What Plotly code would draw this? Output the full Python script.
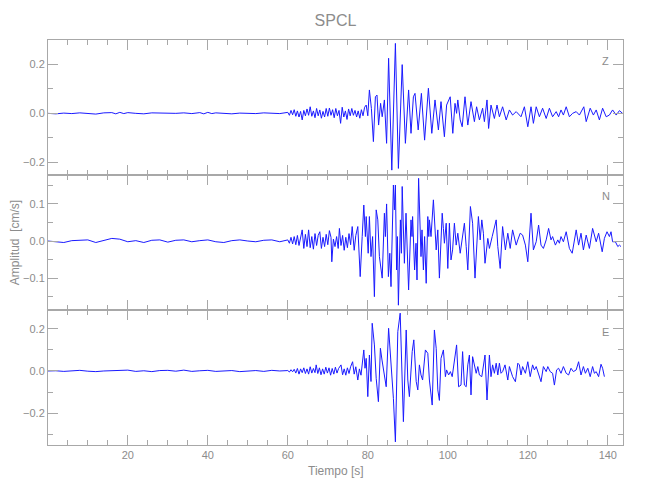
import plotly.graph_objects as go
from plotly.subplots import make_subplots

# ---------------- data ----------------
t_z = [0,2,4,6,8,10,12,14,16,17,18,19,20,22,24,26,28,30,32,34,36,38,39,40,41,42,44,46,48,50,52,54,56,58,
       60.0,60.4,60.8,61.2,61.6,62.0,62.4,62.8,63.2,63.6,64.0,64.4,64.8,65.2,65.6,66.0,66.4,66.8,67.2,67.6,
       68.0,68.4,68.8,69.2,69.6,70.0,70.4,70.8,71.2,71.6,72.0,72.4,72.8,73.2,73.6,74.0,74.4,74.8,75.2,75.6,
       76.0,76.4,76.8,77.2,77.6,78.0,78.4,78.8,79.2,79.6,
       80.0,80.4,80.9,81.4,81.9,82.3,82.7,83.2,83.6,84.15,84.7,85.2,86.0,86.9,87.65,88.6,89.4,90.2,90.8,91.4,
       91.8,92.6,93.4,94.2,95.15,96.0,96.8,97.65,
       98.3,99.15,99.7,100.6,101.25,101.8,102.2,102.5,103.1,103.6,104.3,105.0,105.8,106.65,107.2,107.9,108.7,
       109.15,109.8,110.2,110.8,111.65,112.3,112.9,113.7,114.6,115.4,116.2,117.1,118.3,119.15,120.0,120.8,
       121.4,122.1,122.9,123.7,124.6,125.4,126.2,127.1,127.7,128.3,128.9,129.6,130.4,131.2,132.1,132.9,134.0,
       134.6,135.6,136.4,137.1,137.9,138.7,139.6,140.4,141.2,142.1,142.9,143.7]
v_z = [0,-0.002,0.001,-0.001,0.002,0,-0.003,0.002,0.003,-0.002,0.004,-0.001,0.003,0,-0.002,0.002,0.001,-0.002,0,0.002,
       -0.001,0.003,-0.002,0.004,-0.001,0.002,0,-0.002,0.001,0,-0.001,0.002,0,-0.001,
       0.004,-0.008,0.012,-0.006,0.015,-0.012,0.010,-0.015,0.008,-0.027,0.012,-0.010,0.018,-0.008,0.027,-0.012,
       0.010,-0.018,0.020,-0.010,0.014,-0.020,0.008,-0.015,0.020,-0.012,0.022,-0.008,0.015,-0.018,0.020,-0.010,
       0.012,-0.041,0.025,-0.015,0.010,-0.025,0.018,-0.010,0.020,-0.008,0.012,-0.015,0.010,-0.020,0.015,-0.010,
       0.025,0.034,
       -0.010,0.096,0.020,-0.116,0.068,0.075,-0.048,0.041,-0.014,0.055,-0.123,0.226,-0.233,0.287,-0.226,0.200,
       -0.123,0.096,-0.082,0.068,0.082,-0.068,0.082,-0.110,0.103,-0.082,0.055,-0.068,
       0.048,-0.096,0.034,0.068,-0.082,0.041,0.0,0.055,-0.027,-0.055,0.068,-0.048,0.048,-0.034,0.027,-0.027,
       0.021,-0.034,0.055,-0.062,0.034,-0.021,0.034,-0.014,0.027,-0.027,0.014,-0.007,0.007,-0.014,0.027,-0.055,
       0.027,-0.041,0.027,-0.014,0.021,-0.021,0.021,-0.014,0.007,-0.014,0.014,-0.007,0.027,-0.014,0.0,0.007,
       -0.007,0.027,-0.034,0.021,-0.007,0.014,-0.027,0.021,-0.014,-0.007,0.014,-0.007,0.011,0.0]

t_n = [0,2,4,6,8,10,12,14,16,18,20,22,24,26,28,30,32,34,36,38,40,42,44,46,48,50,52,54,56,58,
       60.0,60.4,60.8,61.2,61.6,62.0,62.4,62.8,63.2,63.6,64.0,64.4,64.8,65.2,65.6,66.0,66.4,66.8,67.2,67.6,
       68.0,68.4,68.8,69.2,69.6,70.0,70.4,70.8,71.0,71.4,71.8,72.2,72.6,72.9,73.3,73.7,74.1,74.5,74.9,75.3,
       75.7,76.1,76.6,77.0,77.5,
       78.1,78.6,79.0,79.4,79.6,80.1,80.4,80.8,81.2,81.65,82.1,82.5,82.9,83.6,84.15,84.4,84.7,85.15,85.5,85.8,
       86.4,86.65,86.9,87.2,87.4,87.65,88.15,88.4,88.6,89.15,89.55,90.2,90.8,91.05,91.2,91.7,92.05,92.3,92.7,
       93.3,93.55,93.9,94.2,94.6,95.0,95.25,95.4,95.8,96.4,97.1,97.5,97.9,
       98.6,98.9,99.15,99.6,100.0,100.4,100.8,101.2,101.65,102.1,102.5,103.1,103.7,104.15,104.6,105.0,105.65,
       106.2,106.8,107.2,107.65,108.1,108.5,108.9,109.3,110.0,110.4,111.1,111.65,112.1,112.5,113.1,113.7,114.4,
       115.0,115.6,116.2,117.1,117.5,118.1,118.7,119.4,120.0,120.8,121.4,122.1,122.7,123.3,123.9,124.6,125.2,
       125.8,126.2,126.9,127.5,127.9,128.3,128.9,129.6,130.4,131.1,132.1,132.7,133.3,133.9,134.6,135.4,136.2,
       137.1,137.7,138.6,139.15,139.8,140.4,140.8,141.2,141.9,142.5,142.9,143.3]
v_n = [0,-0.001,-0.004,0.001,0.003,0.003,-0.004,0.002,0.007,0.005,-0.002,0.001,-0.004,0.002,0.003,-0.003,0.002,
       0.003,-0.002,0.001,0.003,-0.002,-0.004,0.001,0.003,0,-0.002,0.002,0.003,-0.002,
       0.003,-0.006,0.010,-0.008,0.012,-0.010,0.015,-0.012,0.008,0.030,-0.020,0.018,-0.015,0.030,-0.018,0.012,
       -0.022,0.020,-0.012,0.015,0.025,-0.020,0.010,-0.015,0.018,-0.010,0.028,0.010,-0.056,0.005,-0.015,0.012,
       -0.020,0.034,-0.012,0.015,-0.025,0.010,-0.018,0.020,-0.010,0.039,-0.025,0.015,0.039,
       -0.096,0.012,0.097,0.012,0.066,-0.033,0.066,-0.042,0.012,-0.150,0.084,0.057,-0.042,-0.100,0.075,0.012,
       0.100,-0.096,-0.033,-0.123,0.151,0.084,0.151,-0.078,0.012,-0.173,0.057,-0.033,0.147,-0.060,0.075,-0.132,
       0.057,0.012,0.066,-0.078,-0.006,-0.105,0.169,-0.042,0.030,-0.078,0.012,-0.114,0.066,0.012,0.057,0.012,
       0.111,-0.024,0.030,-0.100,
       0.075,0.034,-0.006,0.048,-0.074,0.048,-0.051,-0.024,0.048,-0.011,0.021,-0.033,0.016,0.048,-0.015,-0.078,
       0.093,0.048,-0.100,-0.024,0.066,0.003,0.057,0.021,-0.060,0.007,-0.020,0.012,0.034,0.057,-0.015,-0.074,
       0.039,-0.024,0.021,-0.020,0.030,-0.011,0.003,0.021,0.016,-0.011,-0.056,0.075,-0.024,-0.002,0.043,-0.011,
       -0.020,0.003,0.034,0.003,0.012,-0.011,0.003,-0.006,0.012,-0.002,0.025,-0.020,-0.033,0.030,-0.011,0.021,
       -0.024,0.016,-0.020,0.034,-0.002,0.021,-0.029,0.007,0.025,0.012,0.025,-0.002,-0.002,-0.015,-0.011,-0.015]

t_e = [0,2,4,6,8,10,12,14,16,18,20,22,24,26,28,30,32,34,36,38,40,42,44,46,48,50,52,54,56,58,
       60.0,60.4,60.8,61.2,61.6,62.0,62.4,62.8,63.2,63.6,64.0,64.4,64.8,65.2,65.6,66.0,66.4,66.8,67.1,67.5,
       67.9,68.3,68.7,69.1,69.5,69.9,70.3,70.7,71.1,71.5,71.9,72.3,72.7,73.3,73.7,74.1,74.5,74.9,75.3,75.7,
       76.2,76.6,77.0,77.5,77.9,78.3,78.6,
       79.0,79.3,79.6,80.0,80.4,80.8,81.1,81.65,82.1,82.65,83.15,83.55,84.15,84.6,85.2,85.8,86.4,86.9,87.5,88.1,
       88.6,88.9,89.6,90.0,90.4,91.1,91.5,92.1,92.5,92.9,93.3,93.7,94.4,95.0,95.4,96.1,96.65,97.1,97.5,97.9,
       98.3,98.9,99.4,99.7,100.2,100.65,101.1,101.65,102.2,102.7,103.3,103.7,104.15,104.6,105.0,105.4,105.8,
       106.2,106.65,107.1,107.5,107.9,108.5,108.9,109.3,109.8,110.4,110.8,111.2,111.65,112.1,112.5,112.9,113.3,
       113.7,114.3,115.0,115.4,115.8,116.2,116.9,117.5,117.9,118.3,118.7,119.4,120.0,120.6,121.2,121.65,122.1,
       122.65,123.3,123.9,124.6,125.0,125.6,126.2,126.65,127.2,127.7,128.3,128.9,129.6,130.2,130.8,131.4,132.1,
       132.7,133.3,133.9,134.4,135.0,135.6,136.2,136.65,137.1,137.7,138.3,138.7,139.15]
v_e = [0,0.001,-0.002,0.002,0.003,-0.001,-0.003,0,0.002,0.001,0.004,-0.002,0.001,-0.003,0.002,0.003,-0.001,
       0.004,-0.002,0.001,0.003,-0.002,0,0.002,-0.003,0.001,0.002,-0.002,0.003,0,
       0.002,-0.005,0.006,-0.004,0.008,-0.010,0.012,-0.015,0.010,-0.008,0.015,-0.012,0.010,-0.015,0.020,-0.010,
       0.012,-0.008,0.029,-0.012,0.015,-0.018,0.010,-0.015,0.018,-0.010,0.015,-0.020,0.012,-0.015,0.018,-0.010,
       0.012,0.029,-0.018,0.010,-0.020,0.015,-0.012,0.020,0.044,-0.015,0.020,-0.043,0.010,-0.020,0.030,
       0.100,0.013,0.060,-0.122,0.076,-0.050,0.227,0.124,-0.035,-0.146,0.108,0.052,-0.027,-0.075,0.203,0.029,
       -0.130,-0.337,0.187,0.275,-0.098,-0.241,0.195,-0.043,-0.122,0.092,0.148,-0.050,-0.090,0.029,-0.019,-0.043,
       0.100,0.084,-0.043,-0.162,0.195,0.108,-0.090,-0.140,
       0.060,0.100,-0.027,0.005,-0.019,-0.003,-0.027,0.044,0.124,-0.075,-0.067,0.092,-0.067,-0.075,0.029,0.076,
       -0.114,0.068,0.029,-0.011,0.021,-0.019,-0.027,0.029,0.076,-0.138,0.076,-0.027,0.029,-0.011,0.037,-0.019,
       0.037,-0.011,-0.003,0.029,-0.043,0.021,-0.003,-0.027,-0.051,0.037,0.029,-0.019,0.021,-0.011,0.044,-0.027,
       0.029,0.005,0.021,-0.011,-0.051,0.021,-0.003,0.021,-0.003,-0.011,-0.067,0.005,0.013,-0.011,0.021,-0.011,
       -0.019,0.013,-0.003,0.005,0.044,-0.019,0.021,-0.011,0.013,-0.027,0.021,-0.011,-0.003,-0.027,0.032,0.013,
       -0.027]

components = ["Z", "N", "E"]
title_text = "SPCL"
x_title = "Tiempo [s]"
y_title = "Amplitud  [cm/s]"

# ---------------- figure ----------------
GRAY = "#8c8c8c"
AX = "#a8a8a8"
FONT = "Liberation Sans, Arial, sans-serif"

fig = make_subplots(rows=3, cols=1, shared_xaxes=True, vertical_spacing=0)
series = [(t_z, v_z), (t_n, v_n), (t_e, v_e)]
for i, (t, v) in enumerate(series, start=1):
    fig.add_trace(go.Scatter(x=t, y=v, mode="lines",
                             line=dict(color="#1a1aff", width=1),
                             showlegend=False, hoverinfo="skip"), row=i, col=1)

yranges = [[-0.253, 0.301], [-0.186, 0.178], [-0.352, 0.290]]
ydticks = [0.2, 0.1, 0.2]
for i in range(1, 4):
    fig.update_xaxes(range=[0.05, 143.8], tick0=0, dtick=20, ticks="inside", ticklen=10,
                     tickcolor=AX, showline=True, linecolor=AX, linewidth=1, mirror="allticks",
                     showgrid=False, zeroline=False, automargin=False,
                     minor=dict(dtick=5, tick0=0, ticks="inside", ticklen=5, tickcolor=AX, showgrid=False),
                     tickfont=dict(family=FONT, size=11, color=GRAY), row=i, col=1)
    d = ydticks[i - 1]
    fig.update_yaxes(range=yranges[i - 1], tick0=0, dtick=d, ticks="inside", ticklen=10,
                     tickcolor=AX, showline=True, linecolor=AX, linewidth=1, mirror="allticks",
                     showgrid=False, zeroline=False, tickformat=".1f", automargin=False,
                     minor=dict(dtick=d / 2, tick0=0, ticks="inside", ticklen=5, tickcolor=AX, showgrid=False),
                     tickfont=dict(family=FONT, size=11, color=GRAY), row=i, col=1)

annots = []
label_y = [0.948, 0.615, 0.279]
for name, yy in zip(components, label_y):
    annots.append(dict(text=name, x=0.970, y=yy, xref="paper", yref="paper",
                       showarrow=False, font=dict(family=FONT, size=11, color=GRAY),
                       xanchor="center", yanchor="middle"))
annots.append(dict(text=y_title, x=-0.058, y=0.5, xref="paper", yref="paper", textangle=-90,
                   showarrow=False, font=dict(family=FONT, size=12, color=GRAY),
                   xanchor="center", yanchor="middle"))
annots.append(dict(text=x_title, x=0.5, y=-0.064, xref="paper", yref="paper",
                   showarrow=False, font=dict(family=FONT, size=12, color=GRAY),
                   xanchor="center", yanchor="middle"))

# the page adds an 8px body margin, so the figure margins compensate for it
fig.update_layout(
    width=650, height=500,
    margin=dict(l=40, r=35, t=32, b=63, autoexpand=False),
    paper_bgcolor="white", plot_bgcolor="white",
    title=dict(text=title_text, x=0.5, xref="paper", y=0.976, yanchor="middle",
               font=dict(family=FONT, size=16, color=GRAY)),
    annotations=annots,
)

fig.write_html("out.html")
